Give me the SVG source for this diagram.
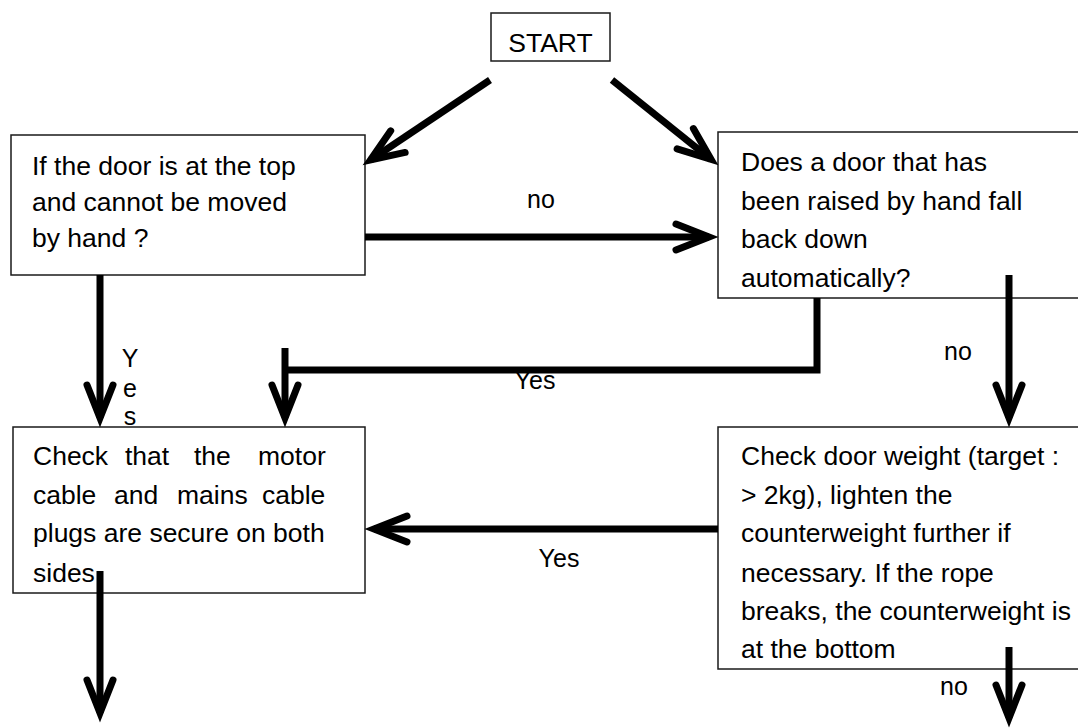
<svg xmlns="http://www.w3.org/2000/svg" width="1078" height="728" viewBox="0 0 1078 728">
<style>
.box{fill:#fff;stroke:#1a1a1a;stroke-width:1.5}
.t{font-family:"Liberation Sans",Arial,sans-serif;font-size:26.5px;fill:#000}
.lbl{font-family:"Liberation Sans",Arial,sans-serif;font-size:25px;fill:#000}
.c{fill:none;stroke:#000;stroke-width:7;stroke-linecap:butt;stroke-linejoin:miter}
</style>
<defs>
<marker id="ah" markerUnits="userSpaceOnUse" viewBox="-60 -30 70 60" markerWidth="70" markerHeight="60" refX="-9" refY="0" orient="auto" overflow="visible">
<polyline points="-42,-13 -9,0 -42,13" fill="none" stroke="#000" stroke-width="7" stroke-linecap="round" stroke-linejoin="miter" stroke-miterlimit="10"/>
</marker>
</defs>
<rect width="1078" height="728" fill="#fff"/>

<g id="start">
<rect class="box" x="491" y="13" width="119" height="48"/>
<text class="t" x="550.5" y="52" text-anchor="middle" font-size="25">START</text>
</g>

<g id="q1">
<rect class="box" x="11" y="135" width="354" height="140"/>
<text class="t" x="32" y="175">If the door is at the top</text>
<text class="t" x="32" y="211">and cannot be moved</text>
<text class="t" x="32" y="247">by hand ?</text>
</g>

<g id="q2">
<rect class="box" x="718" y="132" width="370" height="166"/>
<text class="t" x="741" y="171">Does a door that has</text>
<text class="t" x="741" y="210">been raised by hand fall</text>
<text class="t" x="741" y="248">back down</text>
<text class="t" x="741" y="287">automatically?</text>
</g>

<g id="check-cables">
<rect class="box" x="13" y="427" width="352" height="166"/>
<text class="t" y="465"><tspan x="33">Check</tspan><tspan x="125">that</tspan><tspan x="194">the</tspan><tspan x="258">motor</tspan></text>
<text class="t" y="504"><tspan x="33">cable</tspan><tspan x="114">and</tspan><tspan x="177">mains</tspan><tspan x="262">cable</tspan></text>
<text class="t" x="33" y="542">plugs are secure on both</text>
<text class="t" x="33" y="582">sides</text>
</g>

<g id="check-weight">
<rect class="box" x="718" y="427" width="370" height="242"/>
<text class="t" x="741" y="465">Check door weight (target :</text>
<text class="t" x="741" y="504">&gt; 2kg), lighten the</text>
<text class="t" x="741" y="542">counterweight further if</text>
<text class="t" x="741" y="582">necessary. If the rope</text>
<text class="t" x="741" y="620">breaks, the counterweight is</text>
<text class="t" x="741" y="658">at the bottom</text>
</g>

<g id="connectors">
<text class="lbl" x="541" y="208" text-anchor="middle">no</text>
<text class="lbl" x="130" y="367" text-anchor="middle">Y</text>
<text class="lbl" x="130" y="397" text-anchor="middle">e</text>
<text class="lbl" x="130" y="425" text-anchor="middle">s</text>
<text class="lbl" x="535" y="389" text-anchor="middle">Yes</text>
<text class="lbl" x="958" y="360" text-anchor="middle">no</text>
<text class="lbl" x="559" y="567" text-anchor="middle">Yes</text>
<text class="lbl" x="954" y="695" text-anchor="middle">no</text>

<path class="c" d="M490,80 L370.5,160" marker-end="url(#ah)"/>
<path class="c" d="M612,80 L711,159.4" marker-end="url(#ah)"/>
<path class="c" d="M365,237 H709" marker-end="url(#ah)"/>
<path class="c" d="M100,275 V418" marker-end="url(#ah)"/>
<path class="c" d="M817,298 V370 H285"/>
<path class="c" d="M285,348 V418" marker-end="url(#ah)"/>
<path class="c" d="M1009,275 V418" marker-end="url(#ah)"/>
<path class="c" d="M718,529 H374" marker-end="url(#ah)"/>
<path class="c" d="M100,571 V713" marker-end="url(#ah)"/>
<path class="c" d="M1009,647 V718" marker-end="url(#ah)"/>
</g>
</svg>
